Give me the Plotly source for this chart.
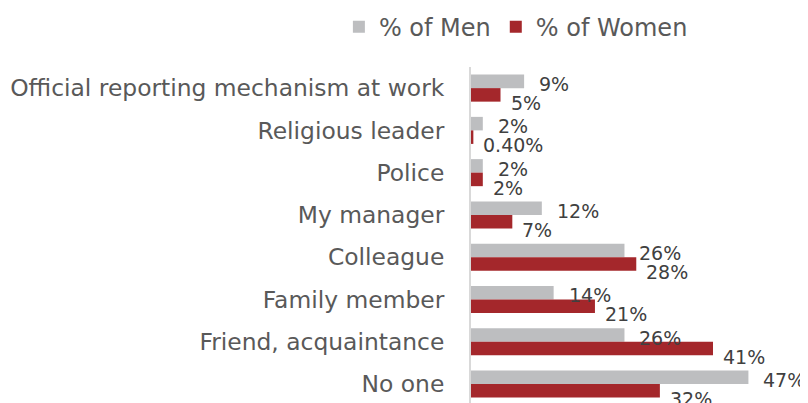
import plotly.graph_objects as go

categories = ["Official reporting mechanism at work", "Religious leader", "Police",
              "My manager", "Colleague", "Family member", "Friend, acquaintance", "No one"]
men = [9, 2, 2, 12, 26, 14, 26, 47]
women = [5, 0.4, 2, 7, 28, 21, 41, 32]
men_labels = ["9%", "2%", "2%", "12%", "26%", "14%", "26%", "47%"]
women_labels = ["5%", "0.40%", "2%", "7%", "28%", "21%", "41%", "32%"]

GRAY = "#BDBEC0"
RED = "#A4272B"
TXT = "#595959"
LBL = "#404040"
FONT = "DejaVu Sans"

fig = go.Figure()
fig.add_trace(go.Bar(y=categories, x=men, name="% of Men", orientation="h",
                     marker=dict(color=GRAY, line=dict(width=0))))
fig.add_trace(go.Bar(y=categories, x=women, name="% of Women", orientation="h",
                     marker=dict(color=RED, line=dict(width=0))))

ann = []
for c, v, t in zip(categories, men, men_labels):
    ann.append(dict(x=v, y=c, text=t, showarrow=False, xanchor="left", yanchor="middle",
                    xshift=13, yshift=4, font=dict(size=19, color=LBL, family=FONT)))
for c, v, t in zip(categories, women, women_labels):
    ann.append(dict(x=v, y=c, text=t, showarrow=False, xanchor="left", yanchor="middle",
                    xshift=8, yshift=-15, font=dict(size=19, color=LBL, family=FONT)))

fig.update_layout(
    width=808, height=403,
    margin=dict(l=463, r=18, t=59, b=0, autoexpand=False),
    paper_bgcolor="white", plot_bgcolor="white",
    barmode="group", bargap=0.36, bargroupgap=0,
    font=dict(family=FONT, color=TXT, size=23),
    showlegend=True,
    legend=dict(orientation="h", xref="paper", yref="paper",
                x=-0.404, y=1.116, xanchor="left", yanchor="middle",
                font=dict(size=24, color=TXT, family=FONT),
                itemwidth=30, tracegroupgap=0, bgcolor="rgba(0,0,0,0)"),
    annotations=ann,
    xaxis=dict(range=[0, 55.4], showgrid=False, zeroline=False, showticklabels=False,
               showline=False, ticks=""),
    yaxis=dict(categoryorder="array", categoryarray=categories, range=[7.64, -0.5],
               showgrid=False, zeroline=False, showline=True, linecolor="#D9D9D9",
               linewidth=2, ticks="", ticklabelstandoff=20,
               tickfont=dict(size=23.4, color=TXT, family=FONT)),
)

fig.write_html("out.html")
